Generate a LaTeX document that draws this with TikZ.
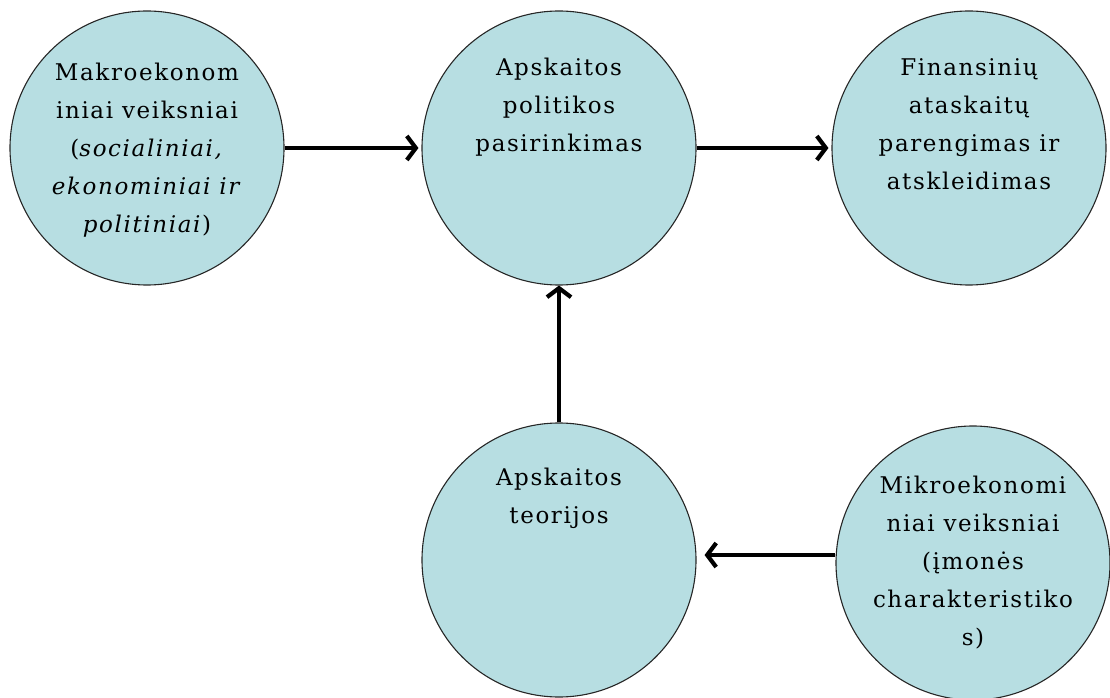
\documentclass[tikz,border=0pt]{standalone}
\usepackage{fontspec}
\setmainfont{DejaVu Serif}[LetterSpace=7]
\usetikzlibrary{arrows.meta}
\definecolor{circfill}{RGB}{183,222,226}
\begin{document}
\begin{tikzpicture}[x=1pt,y=1pt,
		factor/.style={circle,draw=black!85,line width=1.1pt,fill=circfill,minimum size=274pt,inner sep=0pt},
		factortext/.style={anchor=north,align=center,inner sep=0pt,font=\fontsize{23}{38}\selectfont},
		flow/.style={line width=4.2pt,-{Straight Barb[length=9pt,width=24pt]}}]
			\useasboundingbox (0,0) rectangle (1110,697);
			\node[factor] (makro) at (147,549) {};
			\node[factor] (politika) at (559,549) {};
			\node[factor] (ataskaitos) at (969,549) {};
			\node[factor] (teorijos) at (559,137) {};
			\node[factor] (mikro) at (973,134) {};
			\node[factortext] (makrotxt) at ([yshift=-52pt]makro.north) {Makroekonom\\iniai veiksniai\\(\textit{socialiniai,}\\\textit{ekonominiai ir}\\\textit{politiniai})};
			\node[factortext] (politikatxt) at ([yshift=-47pt]politika.north) {Apskaitos\\politikos\\pasirinkimas};
			\node[factortext] (ataskaitostxt) at ([yshift=-48pt]ataskaitos.north) {Finansinių\\ataskaitų\\parengimas ir\\atskleidimas};
			\node[factortext] (teorijostxt) at ([yshift=-45pt]teorijos.north) {Apskaitos\\teorijos};
			\node[factortext] (mikrotxt) at ([yshift=-50pt]mikro.north) {Mikroekonomi\\niai veiksniai\\(įmonės\\charakteristiko\\s)};
			\draw[flow,shorten >=3pt] (makro.east) -- (politika.west);
			\draw[flow,shorten >=3pt] (politika.east) -- (ataskaitos.west);
			\draw[flow] (teorijos.north) -- (politika.south);
			\draw[flow,shorten >=8pt] (mikro.west |- 0,142) -- (teorijos.east |- 0,142);
		\end{tikzpicture}
\end{document}
